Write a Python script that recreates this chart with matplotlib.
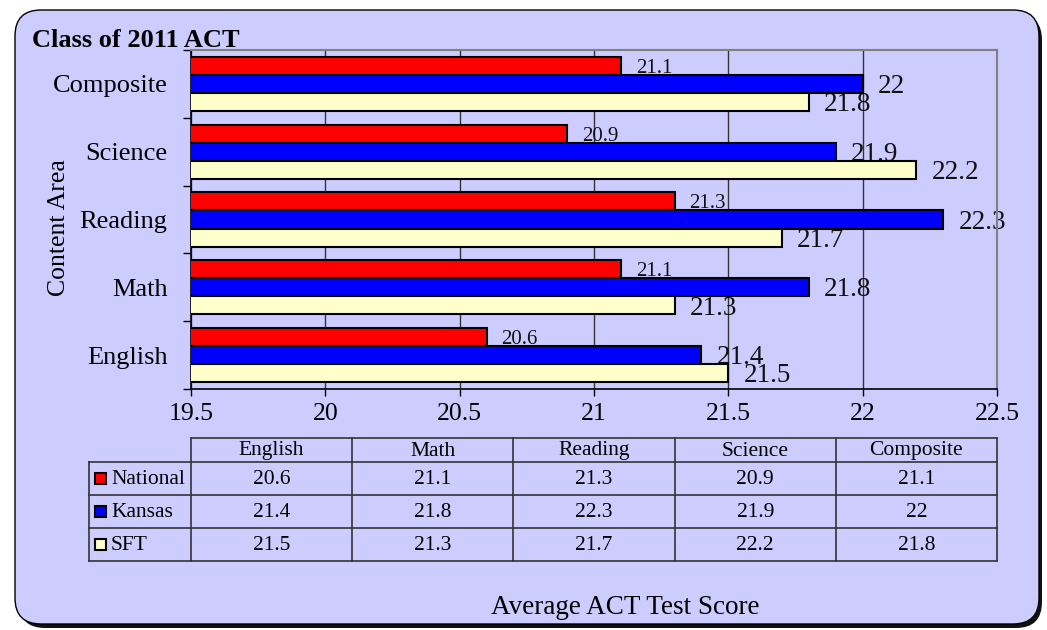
import numpy as np
import matplotlib.pyplot as plt
from matplotlib.patches import FancyBboxPatch, Rectangle

# Data
subjects = ['English', 'Math', 'Reading', 'Science', 'Composite']
national = [20.6, 21.1, 21.3, 20.9, 21.1]
kansas = [21.4, 21.8, 22.3, 21.9, 22.0]
sft = [21.5, 21.3, 21.7, 22.2, 21.8]
series_names = ['National', 'Kansas', 'SFT']
series_colors = ['#FF0000', '#0000FF', '#FFFFCC']
xticks = [19.5, 20, 20.5, 21, 21.5, 22, 22.5]

W, H = 1047, 630
bg = '#CCCCFF'
plt.rcParams['font.family'] = ['Liberation Serif', 'DejaVu Serif']

fig = plt.figure(figsize=(W / 100, H / 100), dpi=100)
fig.patch.set_facecolor('white')

# pixel canvas for the frame, table and loose texts
base = fig.add_axes([0, 0, 1, 1])
base.set_xlim(0, W)
base.set_ylim(H, 0)
base.axis('off')
base.add_patch(FancyBboxPatch((19, 14), 1023, 614, boxstyle='round,pad=0,rounding_size=26',
                              fc='#111111', ec='none'))
base.add_patch(FancyBboxPatch((15, 10), 1024, 614, boxstyle='round,pad=0,rounding_size=26',
                              fc=bg, ec='black', lw=1))

# plot area
L, R, T, B = 191, 997, 50, 389
ax = fig.add_axes([L / W, 1 - B / H, (R - L) / W, (B - T) / H])
ax.set_zorder(2)
ax.set_facecolor(bg)

y = np.arange(len(subjects))
h = 0.267
all_vals = [national, kansas, sft]
label_sizes = [15, 19.5, 19.5]
for i, (vals, c) in enumerate(zip(all_vals, series_colors)):
    yy = y + (1 - i) * h
    ax.barh(yy, vals, height=h, color=c, edgecolor='black', lw=1.5, zorder=3)
    fs = label_sizes[i]
    for yv, v in zip(yy, vals):
        ax.annotate(f'{v:g}', (v, yv), xytext=(15, -0.676 * fs * 100 / 72 / 2),
                    textcoords='offset pixels', ha='left', va='baseline',
                    fontsize=fs, color='#111111', zorder=2)

ax.set_xlim(19.5, 22.5)
ax.set_ylim(-0.5, len(subjects) - 0.5)
ax.set_xticks(xticks)
ax.set_xticklabels([f'{t:g}' for t in xticks])
ax.set_yticks(y)
ax.set_yticklabels(subjects)
ax.set_yticks(np.arange(-0.5, len(subjects)), minor=True)
ax.tick_params(axis='y', which='major', length=0, pad=17, labelsize=19)
ax.tick_params(axis='y', which='minor', length=6, width=1, direction='out')
ax.tick_params(axis='x', length=5, width=1, direction='out', pad=5, labelsize=18.5)
ax.grid(axis='x', color='#333333', lw=1, zorder=1)
ax.set_axisbelow(True)
for s in ['top', 'right']:
    ax.spines[s].set_color('#808080')
    ax.spines[s].set_linewidth(1.5)
for s in ['left', 'bottom']:
    ax.spines[s].set_color('black')
    ax.spines[s].set_linewidth(1.2)

# titles
base.text(32, 47, 'Class of 2011 ACT', fontsize=19, fontweight='bold', va='baseline', ha='left')
base.text(59, 228, 'Content Area', fontsize=18.5, rotation=90, va='center', ha='center')
base.text(625, 607, 'Average ACT Test Score', fontsize=19.5, va='center', ha='center')

# data table
col_edges = np.linspace(L, R, len(subjects) + 1)
row_edges = [438, 462, 495, 528, 561]
lab_left = 89
lc = '#333333'
base.plot([L, R], [row_edges[0]] * 2, color=lc, lw=1.2)
for ry in row_edges[1:]:
    base.plot([lab_left, R], [ry, ry], color=lc, lw=1.2)
base.plot([lab_left, lab_left], [row_edges[1], row_edges[-1]], color=lc, lw=1.2)
for cx in col_edges:
    base.plot([cx, cx], [row_edges[0], row_edges[-1]], color=lc, lw=1.2)

for j, name in enumerate(subjects):
    cx = (col_edges[j] + col_edges[j + 1]) / 2
    base.text(cx, (row_edges[0] + row_edges[1]) / 2 + 1, name, fontsize=15.5,
              ha='center', va='center')
    for i, vals in enumerate(all_vals):
        cy = (row_edges[i + 1] + row_edges[i + 2]) / 2
        base.text(cx, cy + 1, f'{vals[j]:g}', fontsize=15.5, ha='center', va='center')

for i, (name, c) in enumerate(zip(series_names, series_colors)):
    cy = (row_edges[i + 1] + row_edges[i + 2]) / 2
    base.add_patch(Rectangle((95, cy - 5.5), 11, 11, fc=c, ec='black', lw=1.5))
    base.text(111, cy + 1, name, fontsize=15.5, ha='left', va='center')

fig.savefig('out.png', dpi=100, facecolor='white')
